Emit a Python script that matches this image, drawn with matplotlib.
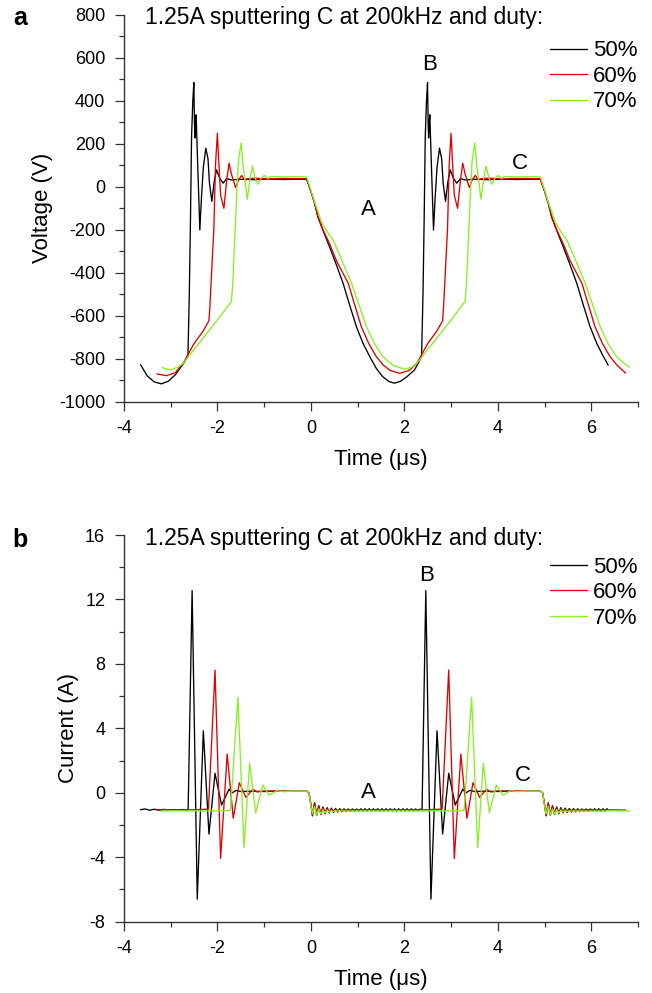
import numpy as np
import matplotlib
matplotlib.use("Agg")
import matplotlib.pyplot as plt
from matplotlib.ticker import MultipleLocator

plt.rcParams['font.family'] = ['Liberation Sans', 'DejaVu Sans']
plt.rcParams['axes.unicode_minus'] = False

TITLE = "1.25A sputtering C at 200kHz and duty:"
LABELS = ["50%", "60%", "70%"]
COLORS = ["#000000", "#e00000", "#88f020"]

# ---------------- Voltage (V) vs time (us) ----------------
V50_t = [-3.64, -3.5, -3.35, -3.2, -3.05, -2.9, -2.75, -2.63, -2.60, -2.575, -2.552, -2.525, -2.503,
         -2.49, -2.48, -2.465, -2.454, -2.42, -2.375, -2.34, -2.30, -2.247, -2.20, -2.17, -2.118,
         -2.07, -2.018, -1.95, -1.877, -1.8, -1.7, -1.5, -1.2, -0.9, -0.6, -0.3, -0.09,
         0.0, 0.08, 0.15, 0.23, 0.40, 0.55, 0.69, 0.83, 0.975, 1.12, 1.26, 1.40, 1.54, 1.67, 1.79,
         1.92, 2.05, 2.22, 2.30, 2.37,
         2.40, 2.425, 2.448, 2.475, 2.497, 2.51, 2.52, 2.535, 2.546, 2.58, 2.625, 2.66, 2.70, 2.753,
         2.80, 2.83, 2.882, 2.93, 2.982, 3.05, 3.123, 3.2, 3.3, 3.5, 3.8, 4.1, 4.4, 4.7, 4.91,
         5.0, 5.08, 5.15, 5.23, 5.40, 5.55, 5.69, 5.83, 5.975, 6.12, 6.26, 6.36]
V50_v = [-829, -880, -908, -917, -905, -875, -830, -790, -500, -150, 232, 400, 485,
         300, 227, 300, 335, 100, -201, -50, 90, 180, 130, 20, -68,
         20, 79, 40, 17, 38, 32, 35, 33, 36, 34, 35, 35,
         -20, -76, -140, -186, -279, -365, -449, -550, -651, -730, -790, -845, -884, -906, -914,
         -905, -885, -852, -820, -790,
         -500, -150, 232, 400, 485, 300, 227, 300, 335, 100, -201, -50, 90, 180,
         130, 20, -68, 20, 79, 40, 17, 38, 32, 35, 33, 36, 34, 35, 35,
         -20, -76, -140, -186, -279, -365, -449, -550, -651, -730, -790, -829]

V60_t = [-3.29, -3.09, -2.9, -2.73, -2.5, -2.3, -2.18, -2.16, -2.10, -2.076, -2.04, -2.0, -1.97,
         -1.93, -1.86, -1.80, -1.75, -1.70, -1.61, -1.54, -1.48, -1.42, -1.35, -1.2, -0.9, -0.6,
         -0.3, -0.09,
         0.0, 0.08, 0.15, 0.26, 0.40, 0.55, 0.80, 0.94, 1.08, 1.24, 1.40, 1.55, 1.70, 1.90, 2.1, 2.27,
         2.5, 2.7, 2.82, 2.84, 2.90, 2.924, 2.96, 3.0, 3.03, 3.07, 3.14, 3.20, 3.25, 3.30, 3.39,
         3.46, 3.52, 3.58, 3.65, 3.8, 4.1, 4.4, 4.7, 4.91,
         5.0, 5.08, 5.15, 5.26, 5.40, 5.55, 5.80, 5.94, 6.08, 6.24, 6.40, 6.55, 6.73]
V60_v = [-871, -879, -865, -821, -730, -670, -623, -560, -300, -201, 100, 249, 120,
         -40, -100, 30, 110, 60, -3, 35, 53, 32, 38, 40, 37, 39,
         38, 38,
         -20, -76, -135, -200, -265, -345, -449, -550, -651, -730, -790, -830, -855, -868, -855, -821,
         -730, -670, -623, -560, -300, -201, 100, 249, 120, -40, -100, 30, 110, 60, -3,
         35, 53, 32, 38, 40, 37, 39, 38, 38,
         -20, -76, -135, -200, -265, -345, -449, -550, -651, -730, -790, -830, -866]

V70_t = [-3.18, -3.0, -2.85, -2.73, -2.4, -2.0, -1.70, -1.67, -1.62, -1.59, -1.55, -1.49, -1.45,
         -1.36, -1.30, -1.25, -1.19, -1.13, -1.06, -0.99, -0.92, -0.85, -0.6, -0.3, -0.09,
         0.0, 0.08, 0.23, 0.35, 0.475, 0.67, 0.87, 1.03, 1.19, 1.36, 1.54, 1.75, 2.01, 2.15, 2.27,
         2.6, 3.0, 3.30, 3.33, 3.38, 3.41, 3.45, 3.51, 3.55, 3.64, 3.70, 3.75, 3.81, 3.87, 3.94,
         4.01, 4.08, 4.15, 4.4, 4.7, 4.91,
         5.0, 5.08, 5.23, 5.35, 5.475, 5.67, 5.87, 6.03, 6.19, 6.36, 6.54, 6.75, 6.82]
V70_v = [-842, -852, -840, -821, -730, -620, -534, -450, -201, -50, 120, 203, 100,
         -58, 40, 97, 40, 12, 40, 53, 38, 48, 46, 47, 46,
         -15, -70, -165, -210, -247, -345, -449, -550, -651, -730, -790, -830, -849, -840, -821,
         -730, -620, -534, -450, -201, -50, 120, 203, 100, -58, 40, 97, 40, 12, 40,
         53, 38, 48, 46, 47, 46,
         -15, -70, -165, -210, -247, -345, -449, -550, -651, -730, -790, -830, -838]

# ---------------- Current (A) vs time (us) ----------------
I50_t = [-3.64, -3.55, -3.45, -3.35, -3.25, -3.15, -3.05, -2.95, -2.85, -2.75, -2.65, -2.625,
         -2.54, -2.43, -2.30, -2.18, -2.05, -1.91, -1.75, -1.68, -1.60, -1.5, -1.3, -1.0, -0.7,
         -0.4, -0.2, -0.09, -0.04, 0.0]
I50_i = [-1.05, -1.0, -1.08, -1.02, -1.07, -1.03, -1.06, -1.04, -1.06, -1.04, -1.05, -1.03,
         12.55, -6.6, 3.85, -2.56, 1.21, -0.76, 0.22, 0.0, 0.15, 0.08, 0.1, 0.08, 0.11,
         0.09, 0.1, 0.1, 0.0, -0.7]
# ringing after the falling edge, sampled every half period (0.045 us) from 0.035 us
I50_ring1 = [-1.43, -0.62, -1.40, -0.80, -1.35, -0.88, -1.30, -0.92, -1.25, -0.95, -1.22, -0.97,
             -1.20, -0.98, -1.18, -0.99, -1.16, -1.0, -1.15, -1.0, -1.14, -1.0, -1.13, -0.99,
             -1.13, -0.99, -1.13, -0.99, -1.13, -0.99, -1.13, -0.99, -1.13, -0.99, -1.13, -0.99,
             -1.13, -0.99, -1.13, -0.99, -1.13, -0.99, -1.13, -0.99, -1.13, -0.99, -1.13, -0.99,
             -1.12, -1.0, -1.11, -1.02]
I50_t2 = [2.38, 2.46, 2.57, 2.70, 2.82, 2.95, 3.09, 3.25, 3.32, 3.40, 3.5, 3.7, 4.0, 4.3, 4.6,
          4.8, 4.91, 4.96, 5.0]
I50_i2 = [-1.03, 12.55, -6.6, 3.85, -2.56, 1.21, -0.76, 0.22, 0.0, 0.15, 0.08, 0.1, 0.08, 0.11,
          0.09, 0.1, 0.1, 0.0, -0.7]
I50_ring2 = [-1.43, -0.62, -1.40, -0.80, -1.35, -0.88, -1.30, -0.92, -1.25, -0.95, -1.22, -0.97,
             -1.20, -0.98, -1.18, -0.99, -1.16, -1.0, -1.15, -1.0, -1.14, -1.0, -1.13, -0.99,
             -1.13, -0.99, -1.13, -0.99, -1.13, -0.99]

I60_t = [-3.29, -3.0, -2.7, -2.4, -2.25, -2.19, -2.05, -1.93, -1.79, -1.66, -1.53, -1.39, -1.24,
         -1.15, -1.0, -0.7, -0.4, -0.09, -0.04, 0.0]
I60_i = [-1.06, -1.05, -1.06, -1.04, -1.02, -1.0, 7.62, -4.07, 2.4, -1.58, 0.63, -0.28, 0.22,
         0.05, 0.12, 0.1, 0.1, 0.1, 0.0, -0.7]
I60_ring1 = [-1.40, -0.65, -1.38, -0.85, -1.30, -0.92, -1.22, -0.97, -1.17, -1.0, -1.13, -1.02,
             -1.10, -1.03, -1.09, -1.04, -1.08, -1.04, -1.07, -1.05]
I60_t2 = [1.6, 2.0, 2.4, 2.75, 2.81, 2.95, 3.07, 3.21, 3.34, 3.47, 3.61, 3.76, 3.85, 4.0, 4.3,
          4.6, 4.91, 4.96, 5.0]
I60_i2 = [-1.06, -1.05, -1.06, -1.02, -1.0, 7.62, -4.07, 2.4, -1.58, 0.63, -0.28, 0.22, 0.05,
          0.12, 0.1, 0.1, 0.1, 0.0, -0.7]
I60_ring2 = [-1.40, -0.65, -1.38, -0.85, -1.30, -0.92, -1.22, -0.97, -1.17, -1.0, -1.13, -1.02,
             -1.10, -1.03, -1.09, -1.04, -1.08, -1.04, -1.07, -1.05]
I60_t3 = [6.0, 6.3, 6.73]
I60_i3 = [-1.06, -1.05, -1.07]

I70_t = [-3.19, -2.9, -2.5, -2.1, -1.80, -1.72, -1.56, -1.43, -1.31, -1.18, -1.03, -0.89, -0.72,
         -0.60, -0.4, -0.09, -0.04, 0.0]
I70_i = [-1.13, -1.12, -1.13, -1.12, -1.11, -1.08, 5.93, -3.4, 1.83, -1.24, 0.48, -0.14, 0.13,
         0.07, 0.1, 0.1, 0.0, -0.8]
I70_ring1 = [-1.30, -0.85, -1.38, -1.0, -1.32, -1.05, -1.25, -1.08, -1.20, -1.10, -1.17, -1.11,
             -1.15, -1.12, -1.13, -1.13]
I70_t2 = [1.2, 1.8, 2.4, 3.0, 3.20, 3.28, 3.44, 3.57, 3.69, 3.82, 3.97, 4.11, 4.28, 4.40, 4.6,
          4.91, 4.96, 5.0]
I70_i2 = [-1.13, -1.12, -1.13, -1.12, -1.11, -1.08, 5.93, -3.4, 1.83, -1.24, 0.48, -0.14, 0.13,
          0.07, 0.1, 0.1, 0.0, -0.8]
I70_ring2 = [-1.30, -0.85, -1.38, -1.0, -1.32, -1.05, -1.25, -1.08, -1.20, -1.10, -1.17, -1.11,
             -1.15, -1.12, -1.13, -1.13]
I70_t3 = [6.2, 6.5, 6.82]
I70_i3 = [-1.13, -1.12, -1.13]

RING_DT = 0.045  # half-period of the post-edge ringing (us)


def ring_times(t0, n):
    return list(t0 + RING_DT * np.arange(n))


def join(*parts):
    t, v = [], []
    for pt, pv in parts:
        t += list(pt)
        v += list(pv)
    return np.array(t), np.array(v)


I50 = join((I50_t, I50_i), (ring_times(0.035, len(I50_ring1)), I50_ring1),
           (I50_t2, I50_i2), (ring_times(5.035, len(I50_ring2)), I50_ring2))
I60 = join((I60_t, I60_i), (ring_times(0.035, len(I60_ring1)), I60_ring1),
           (I60_t2, I60_i2), (ring_times(5.035, len(I60_ring2)), I60_ring2), (I60_t3, I60_i3))
I70 = join((I70_t, I70_i), (ring_times(0.035, len(I70_ring1)), I70_ring1),
           (I70_t2, I70_i2), (ring_times(5.035, len(I70_ring2)), I70_ring2), (I70_t3, I70_i3))

fig = plt.figure(figsize=(6.52, 9.93), dpi=100)
ax1 = fig.add_axes([0.190, 0.5955, 0.7885, 0.3895])
ax2 = fig.add_axes([0.190, 0.0718, 0.7885, 0.3894])

for t, v, c, lab in [(V50_t, V50_v, COLORS[0], LABELS[0]),
                     (V60_t, V60_v, COLORS[1], LABELS[1]),
                     (V70_t, V70_v, COLORS[2], LABELS[2])]:
    ax1.plot(t, v, color=c, lw=0.95, label=lab)
for (t, v), c, lab in [(I50, COLORS[0], LABELS[0]), (I60, COLORS[1], LABELS[1]),
                       (I70, COLORS[2], LABELS[2])]:
    ax2.plot(t, v, color=c, lw=0.95, label=lab)


def style(ax, ylim, ymaj, ymin, ylabel, leg_y):
    ax.set_xlim(-4, 7)
    ax.set_ylim(*ylim)
    ax.xaxis.set_major_locator(MultipleLocator(2))
    ax.xaxis.set_minor_locator(MultipleLocator(1))
    ax.yaxis.set_major_locator(MultipleLocator(ymaj))
    ax.yaxis.set_minor_locator(MultipleLocator(ymin))
    for s in ['top', 'right']:
        ax.spines[s].set_visible(False)
    for s in ['left', 'bottom']:
        ax.spines[s].set_linewidth(1.0)
        ax.spines[s].set_color('#333333')
    ax.tick_params(which='major', direction='out', length=6.5, width=0.9, labelsize=13, pad=7,
                   color='#333333')
    ax.tick_params(which='minor', direction='out', length=3.5, width=0.9, color='#333333')
    ax.set_xlabel("Time (\u03bcs)", fontsize=16, labelpad=8)
    ax.set_ylabel(ylabel, fontsize=16, labelpad=4)
    ax.text(0.041, 0.992, TITLE, transform=ax.transAxes, fontsize=16.5, va='center', ha='left')
    ax.legend(loc='upper right', bbox_to_anchor=(1.016, leg_y), frameon=False, fontsize=16,
              handlelength=1.67, handletextpad=0.27, labelspacing=0.2, borderaxespad=0)


style(ax1, (-1000, 800), 200, 100, "Voltage (V)", 0.957)
style(ax2, (-8, 16), 4, 2, "Current (A)", 0.967)

ax1.text(1.24, -104, "A", fontsize=16, ha='center', va='center')
ax1.text(2.53, 570, "B", fontsize=16, ha='center', va='center')
ax1.text(4.47, 107, "C", fontsize=16, ha='center', va='center')
ax2.text(1.24, 0.0, "A", fontsize=16, ha='center', va='center')
ax2.text(2.47, 13.5, "B", fontsize=16, ha='center', va='center')
ax2.text(4.54, 1.07, "C", fontsize=16, ha='center', va='center')

fig.text(20 / 652, 1 - 18 / 993, "a", fontsize=18, fontweight='bold', ha='center', va='center')
fig.text(20 / 652, 1 - 540 / 993, "b", fontsize=18, fontweight='bold', ha='center', va='center')

fig.savefig("out.png", dpi=100)
